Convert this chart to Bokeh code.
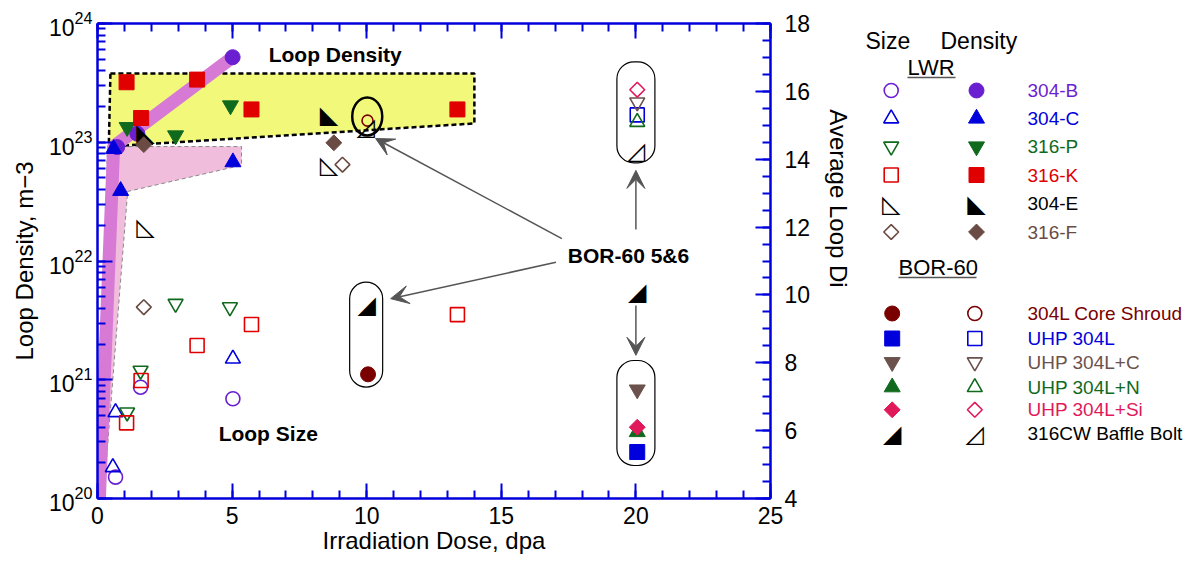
import math
from bokeh.plotting import figure
from bokeh.models import (Range1d, LinearAxis, LinearScale, SingleIntervalTicker, Label, Arrow,
                          VeeHead, CustomJSTickFormatter)
from bokeh.layouts import row
from bokeh.embed import file_html
from bokeh.resources import INLINE
from bokeh.core.properties import value

# ---------------- data ----------------
# LWR series: name, colour, size (open, right axis, nm) and density (filled, left axis, m^-3)
lwr_names = ["304-B", "304-C", "316-P", "316-K", "304-E", "316-F"]
lwr_colors = ["#6a1fd1", "#0000dc", "#106a1e", "#e00000", "#000000", "#6a4b43"]
lwr_open_marker = ["circle", "triangle", "inverted_triangle", "square", "◺", "diamond"]
lwr_fill_marker = ["circle", "triangle", "inverted_triangle", "square", "◣", "diamond"]

size_304B_dose = [0.67, 1.6, 5.03]
size_304B = [4.63, 7.28, 6.94]
size_304C_dose = [0.57, 0.67, 5.03]
size_304C = [4.92, 6.54, 8.12]
size_316P_dose = [1.1, 1.6, 2.9, 4.92]
size_316P = [6.54, 7.77, 9.74, 9.64]
size_316K_dose = [1.08, 1.62, 3.7, 5.72, 13.37]
size_316K = [6.23, 7.48, 8.51, 9.13, 9.42]
size_304E_dose = [1.78, 8.6]
size_304E = [12.0, 13.82]
size_316F_dose = [1.72, 9.1]
size_316F = [9.64, 13.84]

dens_304B_dose = [0.73, 1.48, 5.02]
dens_304B = [9.1e22, 1.18e23, 5.2e23]
dens_304C_dose = [0.6, 0.86, 5.03]
dens_304C = [8.8e22, 3.9e22, 6.8e22]
dens_316P_dose = [1.1, 2.9, 4.94]
dens_316P = [1.34e23, 1.14e23, 2.04e23]
dens_316K_dose = [1.08, 1.62, 3.7, 5.72, 13.37]
dens_316K = [3.2e23, 1.6e23, 3.37e23, 1.89e23, 1.89e23]
dens_304E_dose = [1.78, 8.6]
dens_304E = [1.19e23, 1.68e23]
dens_316F_dose = [1.72, 8.78]
dens_316F = [9.55e22, 9.9e22]

lwr_size = [(size_304B_dose, size_304B), (size_304C_dose, size_304C), (size_316P_dose, size_316P),
            (size_316K_dose, size_316K), (size_304E_dose, size_304E), (size_316F_dose, size_316F)]
lwr_dens = [(dens_304B_dose, dens_304B), (dens_304C_dose, dens_304C), (dens_316P_dose, dens_316P),
            (dens_316K_dose, dens_316K), (dens_304E_dose, dens_304E), (dens_316F_dose, dens_316F)]

# BOR-60 series: filled = size (right axis), open = density (left axis)
bor_names = ["304L Core Shroud", "UHP 304L", "UHP 304L+C", "UHP 304L+N", "UHP 304L+Si", "316CW Baffle Bolt"]
bor_colors = ["#7a0000", "#0000dc", "#6b524c", "#106a1e", "#e01a5a", "#000000"]
bor_fill_marker = ["circle", "square", "inverted_triangle", "triangle", "diamond", "◢"]
bor_open_marker = ["circle", "square", "inverted_triangle", "triangle", "diamond", "◿"]

bor_size_dose = [[10.05], [20.05], [20.05], [20.05], [20.05], [10.0, 20.05]]
bor_size = [[7.66], [5.37], [7.21], [5.96], [6.10], [9.69, 10.08]]
bor_dens_dose = [[10.03], [20.05], [20.05], [20.05], [20.05], [9.96, 20.0]]
bor_dens = [[1.52e23], [1.7e23], [2.17e23], [1.48e23], [2.77e23], [1.34e23, 8.5e22]]

# annotation shapes (dose, density)
yellow_x = [0.48, 14.0, 14.0, 0.42]
yellow_y = [3.8e23, 3.8e23, 1.44e23, 9.2e22]
pink_x = [0.37, 5.35, 5.35, 1.12, 0.22, 0.04]
pink_y = [9.2e22, 9.2e22, 6.4e22, 3.85e22, 1e20, 1e20]
band_x = [0.07, 0.6, 5.02]
band_y = [1e20, 9.2e22, 5.2e23]

BLUE = "#0000dd"
GRAY = "#555555"
FONT = "Liberation Sans"
TRI = ("◣", "◺", "◢", "◿")

H = 561
TOP, BOT = 23, 63

p = figure(width=815, height=H, x_range=Range1d(0, 25), y_range=Range1d(1e20, 1e24),
           y_axis_type="log", output_backend="svg", toolbar_location=None,
           min_border_left=97, min_border_right=45, min_border_top=TOP, min_border_bottom=BOT)
p.extra_y_ranges = {"size": Range1d(4, 18)}
p.extra_y_scales = {"size": LinearScale()}
p.outline_line_color = None
p.xgrid.grid_line_color = None
p.ygrid.grid_line_color = None


def style(ax):
    ax.axis_line_color = BLUE
    ax.axis_line_width = 2.5
    ax.major_tick_line_color = BLUE
    ax.major_tick_line_width = 2
    ax.major_tick_in = 15
    ax.major_tick_out = 0
    ax.minor_tick_line_color = BLUE
    ax.minor_tick_line_width = 2
    ax.minor_tick_in = 8
    ax.minor_tick_out = 0
    ax.major_label_text_font = FONT
    ax.major_label_text_font_size = "23px"
    ax.major_label_text_color = "black"
    ax.axis_label_text_font = FONT
    ax.axis_label_text_font_size = "24px"
    ax.axis_label_text_font_style = "normal"
    ax.axis_label_text_color = "black"


xa = p.xaxis[0]
xa.ticker = SingleIntervalTicker(interval=5, num_minor_ticks=5)
xa.axis_label = "Irradiation Dose, dpa"
style(xa)
xa.major_label_standoff = 8
xa.axis_label_standoff = 0

ya = p.yaxis[0]
ya.axis_label = "Loop Density, m\u22123"
style(ya)
ya.major_label_standoff = 5
ya.axis_label_standoff = 8

top = LinearAxis(ticker=SingleIntervalTicker(interval=5, num_minor_ticks=5),
                 formatter=CustomJSTickFormatter(code="return ''"))
style(top)
top.major_label_text_font_size = "0px"
top.major_label_standoff = 0
p.add_layout(top, "above")

right = LinearAxis(y_range_name="size", ticker=SingleIntervalTicker(interval=2, num_minor_ticks=4))
style(right)
right.major_label_standoff = 14
p.add_layout(right, "right")

# shaded regions
p.patch(pink_x, pink_y, fill_color="#f0bedc", line_color="#888888", line_dash="4 3", line_width=1)
p.patch(yellow_x, yellow_y, fill_color="#f2f87a", line_color="black", line_dash="5 3", line_width=2.5)
p.line(band_x, band_y, line_width=13, line_color="#d67ad6", line_join="round", line_cap="round")

# ellipse and ovals
p.ellipse(x=[10.02], y=[1.65e23], width=30, height=38, width_units="screen", height_units="screen",
          fill_alpha=0, line_color="black", line_width=2.5)
p.rect(x=[9.98, 20.0, 20.0], y=[8.83, 15.38, 6.52], width=[33, 38, 38], height=[105, 101, 105],
       width_units="screen", height_units="screen", border_radius=17,
       fill_alpha=0, line_color="black", line_width=1.2, y_range_name="size")


def draw(fig, x, y, marker, color, filled, yname="default", size=15):
    if marker in TRI:
        fig.text(x, y, text=[marker] * len(x), text_font=value("DejaVu Sans"), text_font_size="24px",
                 text_align="center", text_baseline="middle", text_color=color, y_range_name=yname)
        return
    kw = dict(line_color=color, y_range_name=yname)
    s = size
    ang = 0
    m = marker
    if m == "diamond":
        m = "square"
        ang = math.pi / 4
        s = size * 0.75
    elif m in ("triangle", "inverted_triangle"):
        s = size + 1
    if filled:
        kw.update(fill_color=color, line_width=1)
    else:
        kw.update(fill_alpha=0, line_width=1.6)
    fig.scatter(x, y, marker=m, size=s, angle=ang, **kw)


for i, (dx, dy) in enumerate(lwr_size):
    draw(p, dx, dy, lwr_open_marker[i], lwr_colors[i], False, "size", 14)
for i, (dx, dy) in enumerate(lwr_dens):
    draw(p, dx, dy, lwr_fill_marker[i], lwr_colors[i], True, "default", 15)
for i in range(len(bor_names)):
    draw(p, bor_dens_dose[i], bor_dens[i], bor_open_marker[i], bor_colors[i], False, "default",
         11 if i == 0 else 14)
for i in range(len(bor_names)):
    draw(p, bor_size_dose[i], bor_size[i], bor_fill_marker[i], bor_colors[i], True, "size", 15)

# arrows
for xs, ys, xe, ye in [(17.25, 11.66, 10.33, 14.61), (17.03, 10.96, 10.89, 9.89),
                       (20.0, 11.93, 20.0, 13.67), (20.0, 9.69, 20.0, 8.22)]:
    p.add_layout(Arrow(end=VeeHead(size=18, fill_color=GRAY, line_color=GRAY),
                       x_start=xs, y_start=ys, x_end=xe, y_end=ye, line_color=GRAY,
                       line_width=1.5, y_range_name="size"))

for txt, x, y in [("Loop Density", 6.36, 17.09), ("Loop Size", 4.5, 5.92), ("BOR-60 5&6", 17.47, 11.16)]:
    p.add_layout(Label(x=x, y=y, text=txt, text_font=FONT, text_font_size="21px", text_color="black",
                       text_font_style="bold", text_baseline="middle", y_range_name="size"))

# ---------------- legend figure (page pixel coordinates) ----------------
LX0 = 815
lg = figure(width=1195 - LX0, height=H, x_range=Range1d(LX0, 1195), y_range=Range1d(H - BOT, TOP),
            output_backend="svg", toolbar_location=None,
            min_border_left=0, min_border_right=0, min_border_top=TOP, min_border_bottom=BOT)
lg.axis.visible = False
lg.xgrid.grid_line_color = None
lg.ygrid.grid_line_color = None
lg.outline_line_color = None

lg.text([838], [198], text=["Average Loop Di"], text_font=value(FONT), text_font_size="24px",
        text_align="center", text_baseline="middle", angle=-math.pi / 2)

lg.text([865, 940], [40, 40], text=["Size", "Density"], text_font=value(FONT), text_font_size="23px",
        text_baseline="middle")
lg.text([907, 898], [66.7, 266.7], text=["LWR", "BOR-60"], text_font=value(FONT), text_font_size="22px",
        text_baseline="middle")
lg.segment([907, 898], [77, 277], [955, 976], [77, 277], line_color="#555555", line_width=1.5)

lwr_rows = [90, 118, 146, 174.5, 203, 231.5]
for i, name in enumerate(lwr_names):
    yy = lwr_rows[i]
    draw(lg, [890.7], [yy], lwr_open_marker[i], lwr_colors[i], False, "default", 14)
    draw(lg, [976], [yy], lwr_fill_marker[i], lwr_colors[i], True, "default", 15)
    lg.text([1027], [yy], text=[name], text_font=value(FONT), text_font_size="19px",
            text_baseline="middle", text_color=lwr_colors[i])

bor_rows = [313, 338, 361.7, 386.7, 409.3, 433]
for i, name in enumerate(bor_names):
    yy = bor_rows[i]
    draw(lg, [891.7], [yy], bor_fill_marker[i], bor_colors[i], True, "default", 15)
    draw(lg, [974.3], [yy], bor_open_marker[i], bor_colors[i], False, "default", 14)
    lg.text([1027], [yy], text=[name], text_font=value(FONT), text_font_size="19px",
            text_baseline="middle", text_color=bor_colors[i])

layout = row(p, lg)
open("out.html", "w").write(file_html(layout, INLINE))
